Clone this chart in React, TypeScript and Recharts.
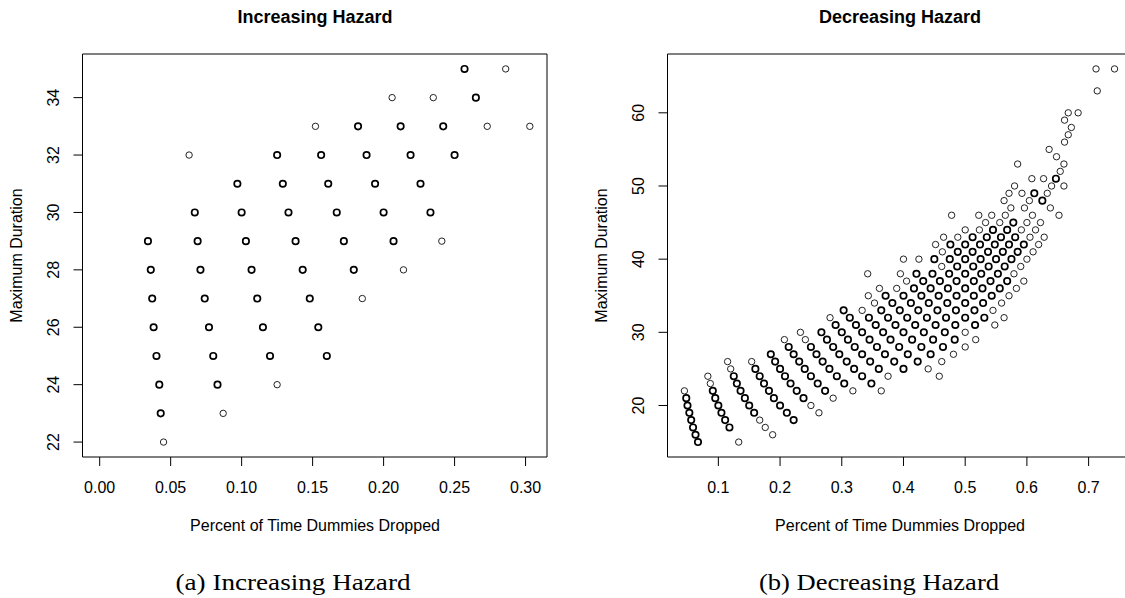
import { ScatterChart, Scatter, XAxis, YAxis, ReferenceArea } from "recharts";

type Pair = [number, number];

const FONT = "'Liberation Sans', Arial, Helvetica, sans-serif";

// [share of time dummies dropped, maximum duration] — overplotted (bold) marks
const incRepeated: Pair[] = [
  [0.043, 23],
  [0.042, 24], [0.083, 24],
  [0.040, 25], [0.080, 25], [0.120, 25], [0.160, 25],
  [0.038, 26], [0.077, 26], [0.115, 26], [0.154, 26],
  [0.037, 27], [0.074, 27], [0.111, 27], [0.148, 27],
  [0.036, 28], [0.071, 28], [0.107, 28], [0.143, 28], [0.179, 28],
  [0.034, 29], [0.069, 29], [0.103, 29], [0.138, 29], [0.172, 29], [0.207, 29],
  [0.067, 30], [0.100, 30], [0.133, 30], [0.167, 30], [0.200, 30], [0.233, 30],
  [0.097, 31], [0.129, 31], [0.161, 31], [0.194, 31], [0.226, 31],
  [0.125, 32], [0.156, 32], [0.188, 32], [0.219, 32], [0.250, 32],
  [0.182, 33], [0.212, 33], [0.242, 33],
  [0.265, 34],
  [0.257, 35],
];

// single observations (thin marks)
const incSingle: Pair[] = [
  [0.045, 22], [0.087, 23], [0.125, 24], [0.185, 27], [0.214, 28], [0.241, 29],
  [0.063, 32], [0.152, 33], [0.273, 33], [0.303, 33], [0.206, 34], [0.235, 34], [0.286, 35],
];

const decRepeated: Pair[] = [
  [0.067, 15],
  [0.063, 16],
  [0.059, 17], [0.118, 17],
  [0.056, 18], [0.111, 18], [0.222, 18],
  [0.053, 19], [0.105, 19], [0.158, 19], [0.211, 19],
  [0.050, 20], [0.100, 20], [0.150, 20], [0.200, 20],
  [0.048, 21], [0.095, 21], [0.143, 21], [0.190, 21], [0.238, 21],
  [0.091, 22], [0.136, 22], [0.182, 22], [0.227, 22], [0.273, 22],
  [0.130, 23], [0.174, 23], [0.217, 23], [0.261, 23], [0.304, 23], [0.348, 23],
  [0.125, 24], [0.167, 24], [0.208, 24], [0.250, 24], [0.292, 24], [0.333, 24],
  [0.160, 25], [0.200, 25], [0.240, 25], [0.280, 25], [0.320, 25], [0.360, 25], [0.400, 25],
  [0.192, 26], [0.231, 26], [0.269, 26], [0.308, 26], [0.346, 26], [0.385, 26], [0.423, 26],
  [0.185, 27], [0.222, 27], [0.259, 27], [0.296, 27], [0.333, 27], [0.370, 27], [0.407, 27], [0.444, 27],
  [0.214, 28], [0.250, 28], [0.286, 28], [0.321, 28], [0.357, 28], [0.393, 28], [0.429, 28], [0.464, 28],
  [0.276, 29], [0.310, 29], [0.345, 29], [0.379, 29], [0.414, 29], [0.448, 29], [0.483, 29],
  [0.267, 30], [0.300, 30], [0.333, 30], [0.367, 30], [0.400, 30], [0.433, 30], [0.467, 30],
  [0.290, 31], [0.323, 31], [0.355, 31], [0.387, 31], [0.419, 31], [0.452, 31], [0.484, 31], [0.516, 31],
  [0.313, 32], [0.344, 32], [0.375, 32], [0.406, 32], [0.438, 32], [0.469, 32], [0.500, 32], [0.531, 32],
  [0.303, 33], [0.364, 33], [0.394, 33], [0.424, 33], [0.455, 33], [0.485, 33], [0.515, 33],
  [0.382, 34], [0.412, 34], [0.441, 34], [0.471, 34], [0.500, 34], [0.529, 34],
  [0.371, 35], [0.400, 35], [0.429, 35], [0.457, 35], [0.486, 35], [0.514, 35], [0.543, 35],
  [0.417, 36], [0.444, 36], [0.472, 36], [0.500, 36], [0.528, 36], [0.556, 36],
  [0.432, 37], [0.459, 37], [0.486, 37], [0.514, 37], [0.541, 37], [0.568, 37],
  [0.421, 38], [0.447, 38], [0.474, 38], [0.500, 38], [0.526, 38], [0.553, 38],
  [0.487, 39], [0.513, 39], [0.538, 39], [0.564, 39],
  [0.450, 40], [0.475, 40], [0.500, 40], [0.525, 40], [0.550, 40], [0.575, 40],
  [0.488, 41], [0.512, 41], [0.537, 41], [0.561, 41], [0.585, 41],
  [0.476, 42], [0.500, 42], [0.524, 42], [0.548, 42], [0.571, 42], [0.595, 42],
  [0.512, 43], [0.535, 43], [0.558, 43], [0.581, 43],
  [0.545, 44], [0.568, 44],
  [0.578, 45],
  [0.625, 48],
  [0.612, 49],
  [0.647, 51],
];

const decSingle: Pair[] = [
  [0.133, 15], [0.188, 16], [0.176, 17], [0.167, 18], [0.263, 19], [0.250, 20], [0.286, 21],
  [0.045, 22], [0.318, 22], [0.364, 22],
  [0.087, 23],
  [0.083, 24], [0.375, 24], [0.458, 24],
  [0.120, 25], [0.440, 25],
  [0.115, 26], [0.154, 26], [0.462, 26],
  [0.481, 27],
  [0.500, 28],
  [0.207, 29], [0.241, 29], [0.517, 29],
  [0.233, 30], [0.500, 30],
  [0.548, 31],
  [0.281, 32], [0.563, 32],
  [0.333, 33], [0.545, 33],
  [0.353, 34], [0.559, 34],
  [0.343, 35], [0.571, 35],
  [0.361, 36], [0.389, 36], [0.583, 36],
  [0.405, 37], [0.595, 37],
  [0.342, 38], [0.395, 38], [0.579, 38],
  [0.462, 39], [0.590, 39],
  [0.400, 40], [0.425, 40], [0.600, 40],
  [0.463, 41], [0.610, 41],
  [0.452, 42], [0.619, 42],
  [0.465, 43], [0.488, 43], [0.605, 43], [0.628, 43],
  [0.500, 44], [0.523, 44], [0.591, 44], [0.614, 44],
  [0.533, 45], [0.556, 45], [0.600, 45], [0.622, 45],
  [0.478, 46], [0.522, 46], [0.543, 46], [0.565, 46], [0.609, 46], [0.652, 46],
  [0.574, 47], [0.596, 47], [0.638, 47],
  [0.563, 48], [0.604, 48],
  [0.571, 49], [0.592, 49], [0.633, 49],
  [0.580, 50], [0.640, 50], [0.660, 50],
  [0.608, 51], [0.627, 51],
  [0.654, 52],
  [0.585, 53], [0.660, 53],
  [0.648, 54],
  [0.636, 55],
  [0.661, 56],
  [0.667, 57],
  [0.672, 58],
  [0.661, 59],
  [0.667, 60], [0.683, 60],
  [0.714, 63],
  [0.712, 66], [0.742, 66],
];

const incXTicks = [0, 0.05, 0.1, 0.15, 0.2, 0.25, 0.3];
const incYTicks = [22, 24, 26, 28, 30, 32, 34];
const decXTicks = [0.1, 0.2, 0.3, 0.4, 0.5, 0.6, 0.7];
const decYTicks = [20, 30, 40, 50, 60];

const titles = ["Increasing Hazard", "Decreasing Hazard"];
const captions = ["(a) Increasing Hazard", "(b) Decreasing Hazard"];
const xLabel = "Percent of Time Dummies Dropped";
const yLabel = "Maximum Duration";

const ring = (w: number, color: string) => (p: any) =>
  <circle cx={p.cx} cy={p.cy} r={3.2} fill="none" stroke={color} strokeWidth={w} />;

const yTick = (p: any) => (
  <text x={p.x} y={p.y} transform={`rotate(-90 ${p.x} ${p.y})`} textAnchor="middle"
    fontSize={16} fontFamily={FONT} fill="#000">{p.payload.value}</text>
);

interface PanelProps {
  left: number;
  repeated: Pair[];
  single: Pair[];
  xDomain: [number, number];
  yDomain: [number, number];
  xTicks: number[];
  yTicks: number[];
  digits: number;
}

function Panel({ left, repeated, single, xDomain, yDomain, xTicks, yTicks, digits }: PanelProps) {
  const rep = repeated.map(([share, dur]) => ({ share, dur }));
  const one = single.map(([share, dur]) => ({ share, dur }));
  return (
    <div style={{ position: "absolute", left, top: 0 }}>
      <ScatterChart width={585} height={510} margin={{ top: 54, right: 38, bottom: 0, left: 0 }}>
        <XAxis type="number" dataKey="share" domain={xDomain} ticks={xTicks} interval={0} allowDataOverflow
          axisLine={false} stroke="#000" tickSize={9} tickMargin={16} height={53}
          tick={{ fill: "#000", fontSize: 16, fontFamily: FONT }} tickFormatter={(v: number) => v.toFixed(digits)} />
        <YAxis type="number" dataKey="dur" domain={yDomain} ticks={yTicks} interval={0} allowDataOverflow
          axisLine={false} stroke="#000" tickSize={9} tickMargin={14} width={82.5} tick={yTick} />
        <ReferenceArea x1={xDomain[0]} x2={xDomain[1]} y1={yDomain[0]} y2={yDomain[1]}
          fill="none" stroke="#000" strokeWidth={1} ifOverflow="visible" />
        <Scatter data={rep} isAnimationActive={false} shape={ring(1.7, "#000")} />
        <Scatter data={one} isAnimationActive={false} shape={ring(1, "#222")} />
      </ScatterChart>
    </div>
  );
}

export default function App() {
  return (
    <div style={{ position: "absolute", left: 0, top: 0, width: 1125, height: 598, overflow: "hidden", background: "#fff" }}>
      <Panel left={0} repeated={incRepeated} single={incSingle} xDomain={[-0.0121, 0.3151]} yDomain={[21.48, 35.52]}
        xTicks={incXTicks} yTicks={incYTicks} digits={2} />
      <Panel left={585} repeated={decRepeated} single={decSingle} xDomain={[0.0176, 0.7703]} yDomain={[12.96, 68.04]}
        xTicks={decXTicks} yTicks={decYTicks} digits={1} />
      <svg width={1125} height={598} style={{ position: "absolute", left: 0, top: 0, pointerEvents: "none" }}>
        <g fontFamily={FONT} fill="#000">
          <text x={315} y={23} textAnchor="middle" fontWeight="bold" fontSize={18}>{titles[0]}</text>
          <text x={900} y={23} textAnchor="middle" fontWeight="bold" fontSize={18}>{titles[1]}</text>
          <text x={315} y={531} textAnchor="middle" fontSize={16}>{xLabel}</text>
          <text x={900} y={531} textAnchor="middle" fontSize={16}>{xLabel}</text>
          <text transform="translate(22 255.5) rotate(-90)" textAnchor="middle" fontSize={16}>{yLabel}</text>
          <text transform="translate(607 255.5) rotate(-90)" textAnchor="middle" fontSize={16}>{yLabel}</text>
        </g>
        <g fontFamily="'Liberation Serif', 'Times New Roman', serif" fill="#000" fontSize={23}>
          <text x={293} y={590} textAnchor="middle" textLength={235} lengthAdjust="spacingAndGlyphs">{captions[0]}</text>
          <text x={879} y={590} textAnchor="middle" textLength={240} lengthAdjust="spacingAndGlyphs">{captions[1]}</text>
        </g>
      </svg>
    </div>
  );
}
